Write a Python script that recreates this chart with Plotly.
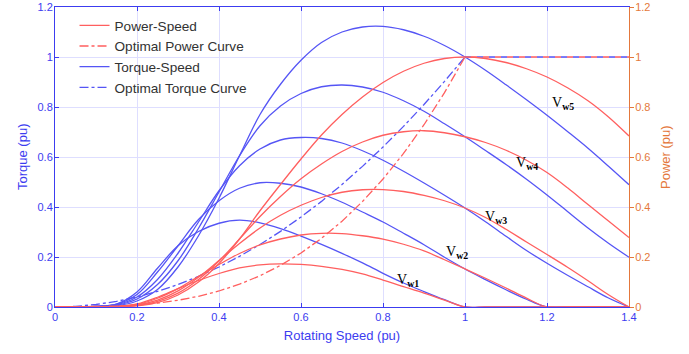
import plotly.graph_objects as go

# Rotating speed grid (pu)
speed = [0, 0.05, 0.1, 0.15, 0.2, 0.25, 0.3, 0.35, 0.4, 0.45, 0.5, 0.55, 0.6, 0.65, 0.7,
         0.75, 0.8, 0.85, 0.9, 0.95, 1.0, 1.05, 1.1, 1.15, 1.2, 1.25, 1.3, 1.35, 1.4]

# Torque-speed curves (pu), wind speeds Vw1..Vw5
torque_vw1 = [0, 0, 0.003, 0.012, 0.06, 0.155, 0.245, 0.302, 0.335, 0.3475, 0.3366, 0.3137, 0.2837,
              0.2504, 0.2147, 0.1763, 0.1348, 0.0961, 0.0617, 0.0291, 0, 0, 0, 0, 0, 0, 0, 0, 0]
torque_vw2 = [0, 0, 0.002, 0.011, 0.05, 0.14, 0.245, 0.35, 0.425, 0.475, 0.497, 0.495, 0.480,
              0.453, 0.419, 0.380, 0.340, 0.295, 0.249, 0.199, 0.152, 0.1095, 0.069, 0.031, 0, 0, 0, 0, 0]
torque_vw3 = [0, 0, 0.002, 0.009, 0.04, 0.11, 0.215, 0.34, 0.465, 0.565, 0.632, 0.668, 0.678, 0.674,
              0.656, 0.625, 0.587, 0.543, 0.496, 0.447, 0.396, 0.341, 0.283, 0.226, 0.175, 0.127,
              0.081, 0.036, 0]
torque_vw4 = [0, 0, 0.0015, 0.007, 0.032, 0.09, 0.185, 0.315, 0.46, 0.605, 0.725, 0.804, 0.854,
              0.881, 0.888, 0.88, 0.859, 0.825, 0.783, 0.733, 0.681, 0.626, 0.570, 0.511, 0.448,
              0.382, 0.316, 0.255, 0.199]
torque_vw5 = [0, 0, 0.001, 0.005, 0.024, 0.07, 0.16, 0.285, 0.435, 0.605, 0.77, 0.891, 0.987, 1.058,
              1.10, 1.12, 1.1225, 1.109, 1.083, 1.046, 1.0, 0.947, 0.889, 0.829, 0.767, 0.702,
              0.635, 0.563, 0.489]

# Power-speed curves (pu)
power_vw1 = [0, 0, 0.0003, 0.0018, 0.012, 0.039, 0.0735, 0.106, 0.134, 0.1564, 0.1683, 0.1725, 0.1702,
             0.1628, 0.1503, 0.1322, 0.1078, 0.0817, 0.0555, 0.0277, 0, 0, 0, 0, 0, 0, 0, 0, 0]
power_vw2 = [0, 0, 0.0002, 0.0017, 0.01, 0.035, 0.0735, 0.1225, 0.17, 0.214, 0.2484, 0.272, 0.288,
             0.2947, 0.2936, 0.285, 0.2717, 0.251, 0.2245, 0.189, 0.1524, 0.115, 0.076, 0.0355,
             0, 0, 0, 0, 0]
power_vw3 = [0, 0, 0.0002, 0.0014, 0.008, 0.0275, 0.0645, 0.119, 0.186, 0.254, 0.316, 0.367, 0.407,
             0.438, 0.459, 0.469, 0.4696, 0.462, 0.4465, 0.425, 0.396, 0.358, 0.311, 0.26, 0.21,
             0.159, 0.105, 0.049, 0]
power_vw4 = [0, 0, 0.00015, 0.001, 0.0064, 0.0225, 0.0555, 0.11, 0.184, 0.272, 0.362, 0.442, 0.513,
             0.572, 0.622, 0.66, 0.687, 0.701, 0.705, 0.697, 0.681, 0.658, 0.627, 0.587, 0.538,
             0.477, 0.41, 0.344, 0.278]
power_vw5 = [0, 0, 0.0001, 0.00075, 0.0048, 0.0175, 0.048, 0.0998, 0.174, 0.272, 0.385, 0.49, 0.592,
             0.688, 0.77, 0.84, 0.898, 0.943, 0.975, 0.994, 1.0, 0.994, 0.978, 0.953, 0.92, 0.877,
             0.825, 0.76, 0.684]

# Optimal curves (below rated speed) and rated plateau
speed_opt = [0, 0.05, 0.1, 0.15, 0.2, 0.25, 0.3, 0.35, 0.4, 0.45, 0.5, 0.55, 0.6, 0.65, 0.7,
             0.75, 0.8, 0.85, 0.9, 0.95, 1.0]
power_opt = [0, 0.000125, 0.001, 0.003375, 0.008, 0.015625, 0.027, 0.042875, 0.064, 0.091125, 0.125,
             0.166375, 0.216, 0.274625, 0.343, 0.421875, 0.512, 0.614125, 0.729, 0.857375, 1.0]
torque_opt = [0, 0.0025, 0.01, 0.0225, 0.04, 0.0625, 0.09, 0.1225, 0.16, 0.2025, 0.25, 0.3025, 0.36,
              0.4225, 0.49, 0.5625, 0.64, 0.7225, 0.81, 0.9025, 1.0]
speed_rated = [1.0, 1.4]
level_rated = [1.0, 1.0]

# Curve labels
label_text = ["V<sub><b>w1</b></sub>", "V<sub><b>w2</b></sub>", "V<sub><b>w3</b></sub>",
              "V<sub><b>w4</b></sub>", "V<sub><b>w5</b></sub>"]
label_x = [0.861, 0.98, 1.075, 1.151, 1.239]
label_y = [0.107, 0.22, 0.36, 0.575, 0.815]

BLUE = "rgb(85,85,245)"
RED = "rgb(255,95,95)"
AXBLUE = "rgb(60,60,240)"
ORANGE = "rgb(228,120,60)"
GRID = "rgb(222,222,255)"

fig = go.Figure()

torques = [torque_vw1, torque_vw2, torque_vw3, torque_vw4, torque_vw5]
powers = [power_vw1, power_vw2, power_vw3, power_vw4, power_vw5]

for i, t in enumerate(torques):
    fig.add_trace(go.Scatter(x=speed, y=t, mode="lines", name="Torque-Speed",
                             line=dict(color=BLUE, width=1.3, shape="spline", smoothing=1.0),
                             legendgroup="ts", showlegend=(i == 0), legendrank=3, yaxis="y"))
fig.add_trace(go.Scatter(x=speed_opt, y=torque_opt, mode="lines", name="Optimal Torque Curve",
                         line=dict(color=BLUE, width=1.3, dash="dashdot"),
                         legendgroup="ot", legendrank=4, yaxis="y"))
fig.add_trace(go.Scatter(x=speed_rated, y=level_rated, mode="lines", name="Optimal Torque Curve",
                         line=dict(color=BLUE, width=1.3, dash="6px,6px"),
                         legendgroup="ot", showlegend=False, yaxis="y"))
for i, p in enumerate(powers):
    fig.add_trace(go.Scatter(x=speed, y=p, mode="lines", name="Power-Speed",
                             line=dict(color=RED, width=1.3, shape="spline", smoothing=1.0),
                             legendgroup="ps", showlegend=(i == 0), legendrank=1, yaxis="y2"))
fig.add_trace(go.Scatter(x=speed_opt, y=power_opt, mode="lines", name="Optimal Power Curve",
                         line=dict(color=RED, width=1.3, dash="dashdot"),
                         legendgroup="op", legendrank=2, yaxis="y2"))
fig.add_trace(go.Scatter(x=speed_rated, y=level_rated, mode="lines", name="Optimal Power Curve",
                         line=dict(color=RED, width=1.3, dash="0px,6px,6px,0px"),
                         legendgroup="op", showlegend=False, yaxis="y2"))

for tx, xx, yy in zip(label_text, label_x, label_y):
    fig.add_annotation(x=xx, y=yy, xref="x", yref="y", text=tx, showarrow=False,
                       font=dict(family="Liberation Serif", size=14, color="black"))

# Axis titles for the two value axes
fig.add_annotation(x=-0.0575, y=0.5, xref="paper", yref="paper", text="Torque (pu)",
                   textangle=-90, showarrow=False, xanchor="center", yanchor="middle",
                   font=dict(color=AXBLUE, size=13))
fig.add_annotation(x=1.0627, y=0.5, xref="paper", yref="paper", text="Power (pu)",
                   textangle=-90, showarrow=False, xanchor="center", yanchor="middle",
                   font=dict(color=ORANGE, size=13))

fig.update_layout(
    width=689, height=354,
    margin=dict(l=55, r=60, t=7, b=47, autoexpand=False),
    paper_bgcolor="white", plot_bgcolor="white",
    font=dict(family="Liberation Sans, Arial", size=11),
    showlegend=True,
    legend=dict(x=0.034, y=0.99, xanchor="left", yanchor="top",
                bgcolor="rgba(255,255,255,0)", borderwidth=0,
                font=dict(size=13.6, color="rgb(50,50,50)"), tracegroupgap=0),
    xaxis=dict(range=[0, 1.4], tickvals=[0, 0.2, 0.4, 0.6, 0.8, 1, 1.2, 1.4],
               ticktext=["0", "0.2", "0.4", "0.6", "0.8", "1", "1.2", "1.4"],
               showgrid=True, gridcolor=GRID, gridwidth=1, zeroline=False,
               showline=True, linecolor=AXBLUE, linewidth=1, mirror="ticks",
               ticks="inside", ticklen=4, tickcolor=AXBLUE, automargin=False,
               tickfont=dict(color=AXBLUE, size=11),
               title=dict(text="Rotating Speed (pu)", font=dict(color=AXBLUE, size=13), standoff=8)),
    yaxis=dict(range=[0, 1.2], tickvals=[0, 0.2, 0.4, 0.6, 0.8, 1, 1.2],
               ticktext=["0", "0.2", "0.4", "0.6", "0.8", "1", "1.2"],
               showgrid=True, gridcolor=GRID, gridwidth=1, zeroline=False,
               showline=True, linecolor=AXBLUE, linewidth=1, automargin=False,
               ticks="inside", ticklen=4, tickcolor=AXBLUE, ticklabelstandoff=-1,
               tickfont=dict(color=AXBLUE, size=11)),
    yaxis2=dict(range=[0, 1.2], overlaying="y", side="right",
                tickvals=[0, 0.2, 0.4, 0.6, 0.8, 1, 1.2],
                ticktext=["0", "0.2", "0.4", "0.6", "0.8", "1", "1.2"],
                showgrid=False, zeroline=False, automargin=False,
                showline=True, linecolor=ORANGE, linewidth=1,
                ticks="outside", ticklen=4, tickcolor=ORANGE, ticklabelstandoff=-1,
                tickfont=dict(color=ORANGE, size=11)),
)

fig.write_html("out.html", config={"displayModeBar": False},
               post_script="document.body.style.margin='0px';")
